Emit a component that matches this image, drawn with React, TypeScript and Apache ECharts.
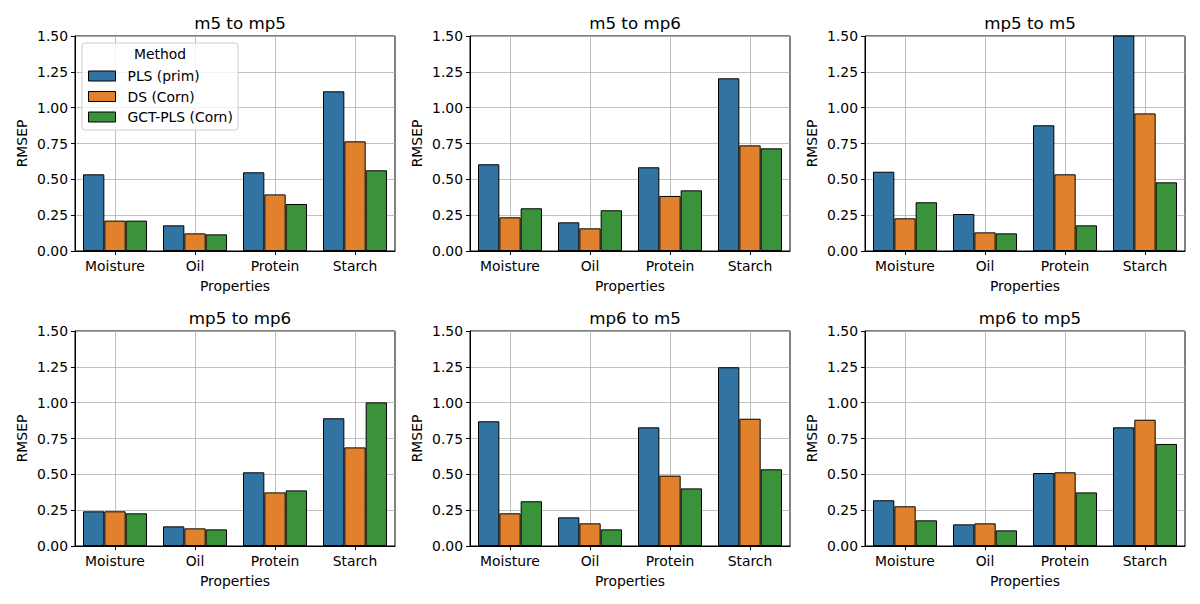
import React, { useEffect, useRef } from "react";
import * as echarts from "echarts";

const categories = ["Moisture", "Oil", "Protein", "Starch"];
const methods = ["PLS (prim)", "DS (Corn)", "GCT-PLS (Corn)"];
const colors = ["#3274a1", "#e1812c", "#3a923a"];
const panelTitles = ["m5 to mp5", "m5 to mp6", "mp5 to m5", "mp5 to mp6", "mp6 to m5", "mp6 to mp5"];

// values per panel: [PLS (prim)], [DS (Corn)], [GCT-PLS (Corn)]
const m5ToMp5 = [
  [0.535, 0.179, 0.549, 1.114],
  [0.212, 0.123, 0.395, 0.765],
  [0.212, 0.116, 0.328, 0.563],
];
const m5ToMp6 = [
  [0.605, 0.2, 0.584, 1.205],
  [0.235, 0.158, 0.384, 0.737],
  [0.298, 0.284, 0.423, 0.716],
];
const mp5ToM5 = [
  [0.553, 0.258, 0.877, 1.56],
  [0.228, 0.13, 0.535, 0.96],
  [0.34, 0.123, 0.179, 0.479],
];
const mp5ToMp6 = [
  [0.242, 0.137, 0.514, 0.891],
  [0.242, 0.123, 0.374, 0.688],
  [0.228, 0.116, 0.388, 1.002],
];
const mp6ToM5 = [
  [0.87, 0.2, 0.828, 1.247],
  [0.228, 0.158, 0.491, 0.888],
  [0.312, 0.116, 0.402, 0.535],
];
const mp6ToMp5 = [
  [0.319, 0.151, 0.509, 0.828],
  [0.277, 0.158, 0.514, 0.881],
  [0.179, 0.109, 0.374, 0.712],
];
const panels = [m5ToMp5, m5ToMp6, mp5ToM5, mp5ToMp6, mp6ToM5, mp6ToMp5];

const FONT = "DejaVu Sans";
const FS = 13.9;

export default function App() {
  const ref = useRef<HTMLDivElement>(null);
  useEffect(() => {
    if (!ref.current) return;
    const chart = echarts.init(ref.current, undefined, { renderer: "svg" });
    const lefts = [75, 470, 865];
    const tops = [36, 331];
    const W = 320;
    const H = 215;
    const grids: any[] = [];
    const xAxes: any[] = [];
    const yAxes: any[] = [];
    const series: any[] = [];
    const titles: any[] = [];
    panels.forEach((panel, i) => {
      const col = i % 3;
      const row = Math.floor(i / 3);
      grids.push({
        left: lefts[col],
        top: tops[row],
        width: W,
        height: H,
        show: true,
        borderColor: "#000",
        borderWidth: 1,
        backgroundColor: "transparent",
        containLabel: false,
      });
      titles.push({
        text: panelTitles[i],
        left: lefts[col] + W / 2,
        top: tops[row] - 27,
        textAlign: "center",
        textStyle: { fontFamily: FONT, fontSize: 16.7, fontWeight: "normal", color: "#000" },
      });
      xAxes.push({
        type: "category",
        gridIndex: i,
        data: categories,
        name: "Properties",
        nameLocation: "middle",
        nameGap: 28,
        nameTextStyle: { fontFamily: FONT, fontSize: FS, color: "#000" },
        axisLine: { show: true, lineStyle: { color: "#000", width: 1 } },
        axisTick: { show: true, alignWithLabel: true, length: 4, lineStyle: { color: "#000" } },
        axisLabel: { fontFamily: FONT, fontSize: FS, color: "#000", margin: 8 },
        splitLine: { show: true, alignWithLabel: true, lineStyle: { color: "#b0b0b0", width: 0.8 } },
      });
      yAxes.push({
        type: "value",
        gridIndex: i,
        min: 0,
        max: 1.5,
        interval: 0.25,
        name: "RMSEP",
        nameLocation: "middle",
        nameGap: 46,
        nameTextStyle: { fontFamily: FONT, fontSize: FS, color: "#000" },
        axisLine: { show: true, lineStyle: { color: "#000", width: 1 } },
        axisTick: { show: true, length: 4, lineStyle: { color: "#000" } },
        axisLabel: {
          fontFamily: FONT,
          fontSize: FS,
          color: "#000",
          margin: 7,
          formatter: (v: number) => v.toFixed(2),
        },
        splitLine: { show: true, lineStyle: { color: "#b0b0b0", width: 0.8 } },
      });
      panel.forEach((vals, m) => {
        series.push({
          type: "bar",
          name: methods[m],
          xAxisIndex: i,
          yAxisIndex: i,
          data: vals,
          barGap: "0%",
          barCategoryGap: "20%",
          clip: true,
          itemStyle: { color: colors[m], borderColor: "#000", borderWidth: 1 },
          emphasis: { disabled: true },
        });
      });
    });
    chart.setOption({
      animation: false,
      backgroundColor: "#fff",
      title: titles,
      grid: grids,
      xAxis: xAxes,
      yAxis: yAxes,
      series,
      legend: {
        data: methods,
        orient: "vertical",
        left: 88,
        top: 69,
        padding: 0,
        itemWidth: 27,
        itemHeight: 10,
        itemGap: 6.5,
        icon: "rect",
        itemStyle: { borderColor: "#000", borderWidth: 1 },
        textStyle: { fontFamily: FONT, fontSize: FS, color: "#000", padding: [0, 0, 0, 7] },
        z: 5,
      },
      graphic: [
        {
          type: "rect",
          z: 4,
          shape: { x: 82, y: 43, width: 156, height: 87, r: 3 },
          style: { fill: "rgba(255,255,255,0.8)", stroke: "#cccccc", lineWidth: 1 },
        },
        {
          type: "text",
          z: 5,
          x: 160,
          y: 54,
          style: {
            text: "Method",
            fontFamily: FONT,
            fontSize: FS,
            fill: "#000",
            align: "center",
            verticalAlign: "middle",
          },
        },
      ],
    });
    return () => chart.dispose();
  }, []);
  return (
    <div
      ref={ref}
      style={{ position: "fixed", left: 0, top: 0, width: 1200, height: 604, background: "#fff" }}
    />
  );
}
